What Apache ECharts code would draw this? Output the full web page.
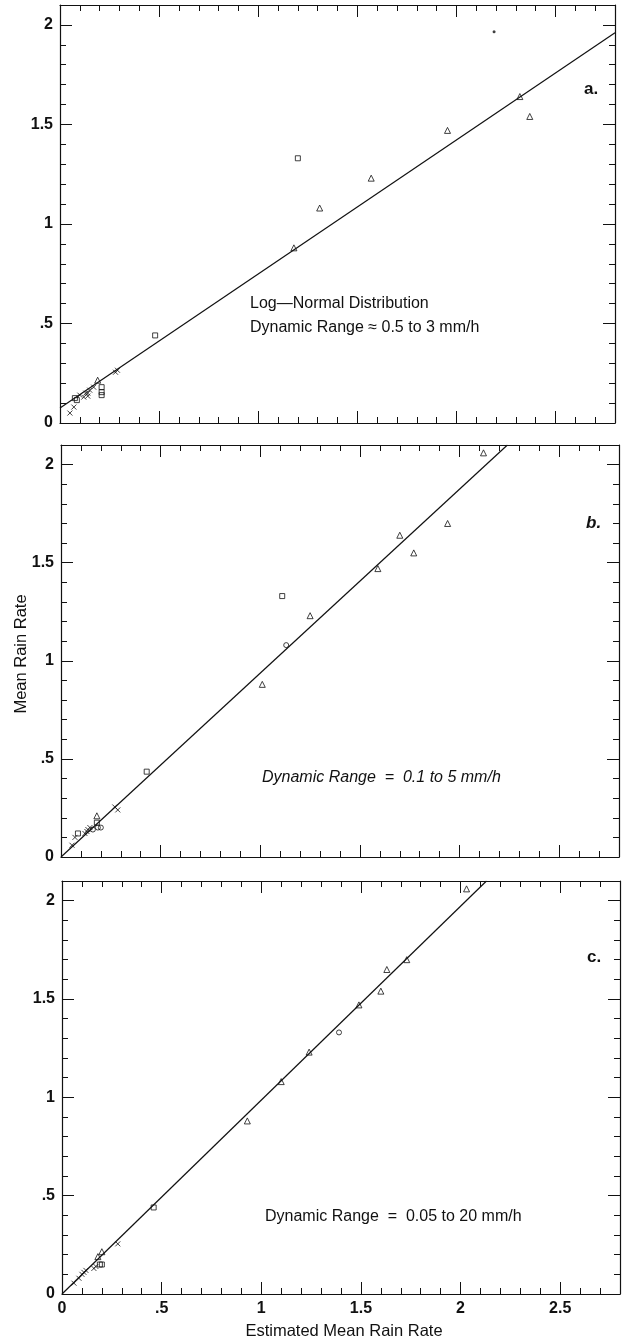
<!DOCTYPE html>
<html>
<head>
<meta charset="utf-8">
<script src="https://cdn.jsdelivr.net/npm/echarts@6/dist/echarts.min.js"></script>
<style>
  html, body { margin: 0; background: #fff; }
  #chart { width: 627px; height: 1340px; }
</style>
</head>
<body>
<div id="chart"></div>
<script>
// panel a - log-normal, dynamic range 0.5 to 3 mm/h
const aTri = [[2.32, 1.64], [2.37, 1.54], [1.955, 1.47], [1.57, 1.23], [1.31, 1.08], [1.18, 0.88], [0.19, 0.215]]
const aSq = [[1.2, 1.33], [0.48, 0.44], [0.21, 0.18], [0.21, 0.155], [0.21, 0.14], [0.075, 0.125], [0.085, 0.115]]
const aX = [[0.28, 0.255], [0.29, 0.265], [0.17, 0.18], [0.15, 0.165], [0.14, 0.15], [0.13, 0.15],
  [0.12, 0.13], [0.14, 0.135], [0.1, 0.14], [0.07, 0.08], [0.05, 0.05]]
const aDot = [[2.19, 1.965]]
const aFit = [[0, 0.075], [2.8, 1.96]]

// panel b - dynamic range 0.1 to 5 mm/h
const bTri = [[2.12, 2.06], [1.94, 1.7], [1.7, 1.64], [1.77, 1.55], [1.59, 1.47], [1.25, 1.23], [1.01, 0.88], [0.18, 0.21]]
const bSq = [[1.11, 1.33], [0.43, 0.435], [0.18, 0.175], [0.085, 0.12]]
const bCirc = [[1.13, 1.08], [0.16, 0.14], [0.185, 0.15], [0.2, 0.15]]
const bX = [[0.27, 0.255], [0.285, 0.24], [0.145, 0.15], [0.135, 0.14], [0.13, 0.13], [0.12, 0.12], [0.07, 0.1], [0.055, 0.06]]
const bFit = [[0, 0], [2.24, 2.1]]

// panel c - dynamic range 0.05 to 20 mm/h
const cTri = [[2.03, 2.06], [1.73, 1.7], [1.63, 1.65], [1.6, 1.54], [1.49, 1.47], [1.24, 1.23], [1.1, 1.08], [0.93, 0.88], [0.2, 0.215], [0.18, 0.19]]
const cSq = [[0.46, 0.44], [0.2, 0.15], [0.19, 0.15]]
const cCirc = [[1.39, 1.33]]
const cX = [[0.28, 0.255], [0.17, 0.14], [0.16, 0.13], [0.12, 0.12], [0.11, 0.11], [0.1, 0.1], [0.085, 0.08], [0.06, 0.055]]
const cFit = [[0, 0], [2.13, 2.1]]

const xMax = 2.8
const yMax = 2.1
const font = '"Liberation Sans", Arial, sans-serif'
const ink = '#111'

const fmt = (v) => {
  if (Math.abs(v * 2 - Math.round(v * 2)) > 1e-6) return ''
  if (v === 0) return '0'
  return String(+v.toFixed(1)).replace(/^0\./, '.')
}

const grids = [
  { left: 60, top: 5, width: 555, height: 418 },
  { left: 61, top: 445, width: 558, height: 412 },
  { left: 62, top: 881, width: 558, height: 413 },
]

const xAxes = []
const yAxes = []
const mainX = []
const mainY = []

function addAxes(list, main, g, isX, max, showLabel) {
  const pos = isX ? ['bottom', 'top'] : ['left', 'right']
  pos.forEach((p, k) => {
    if (k === 0) main.push(list.length)
    list.push({
      gridIndex: g, type: 'value', position: p, min: 0, max: max, interval: 0.5,
      splitLine: { show: false },
      axisLine: { show: true, onZero: false, lineStyle: { color: ink, width: 1.2 } },
      axisTick: { show: true, inside: true, length: 12, lineStyle: { color: ink, width: 1 } },
      axisLabel: {
        show: showLabel && k === 0, formatter: fmt, margin: 7,
        color: ink, fontSize: 16, fontWeight: 'bold', fontFamily: font,
        showMaxLabel: false,
      },
    })
    list.push({
      gridIndex: g, type: 'value', position: p, min: 0, max: max, interval: 0.1,
      splitLine: { show: false },
      axisLine: { show: false, onZero: false },
      axisTick: { show: true, inside: true, length: 6, lineStyle: { color: ink, width: 1 } },
      axisLabel: { show: false },
    })
  })
}

for (let g = 0; g < 3; g++) {
  addAxes(xAxes, mainX, g, true, xMax, g === 2)
  addAxes(yAxes, mainY, g, false, yMax, true)
}

const crossPath = 'path://M0,0L10,10M0,10L10,0'
const hollow = { color: 'rgba(0,0,0,0)', borderColor: ink, borderWidth: 1 }

function pts(g, data, symbol, size, style) {
  return {
    type: 'scatter', xAxisIndex: mainX[g], yAxisIndex: mainY[g],
    data: data, symbol: symbol, symbolSize: size, itemStyle: style, silent: true,
  }
}
function fit(g, data) {
  return {
    type: 'line', xAxisIndex: mainX[g], yAxisIndex: mainY[g], data: data,
    showSymbol: false, lineStyle: { color: ink, width: 1.2 }, silent: true,
  }
}

const series = [
  fit(0, aFit),
  pts(0, aTri, 'triangle', 6, hollow),
  pts(0, aSq, 'rect', 5, hollow),
  pts(0, aX, crossPath, 5, hollow),
  pts(0, aDot, 'circle', 3, { color: ink }),
  fit(1, bFit),
  pts(1, bTri, 'triangle', 6, hollow),
  pts(1, bSq, 'rect', 5, hollow),
  pts(1, bCirc, 'circle', 5, hollow),
  pts(1, bX, crossPath, 5, hollow),
  fit(2, cFit),
  pts(2, cTri, 'triangle', 6, hollow),
  pts(2, cSq, 'rect', 5, hollow),
  pts(2, cCirc, 'circle', 5, hollow),
  pts(2, cX, crossPath, 5, hollow),
]

const txt = (x, y, text, extra) => ({
  type: 'text', x: x, y: y, silent: true,
  style: Object.assign({ text: text, fill: ink, font: '16px ' + font, textVerticalAlign: 'middle' }, extra || {}),
})

const option = {
  animation: false,
  backgroundColor: '#fff',
  grid: grids.map((g) => Object.assign({ containLabel: false, outerBoundsMode: 'none' }, g)),
  xAxis: xAxes,
  yAxis: yAxes,
  series: series,
  graphic: [
    txt(250, 304, 'Log\u2014Normal Distribution'),
    txt(250, 328, 'Dynamic Range \u2248 0.5 to 3 mm/h'),
    txt(262, 778, 'Dynamic Range  =  0.1 to 5 mm/h', { font: 'italic 16px ' + font }),
    txt(265, 1217, 'Dynamic Range  =  0.05 to 20 mm/h'),
    txt(584, 89, 'a.', { font: 'bold 17px ' + font }),
    txt(586, 523, 'b.', { font: 'italic bold 17px ' + font }),
    txt(587, 957, 'c.', { font: 'bold 17px ' + font }),
    txt(344, 1331, 'Estimated Mean Rain Rate', { textAlign: 'center', font: '16.5px ' + font }),
    {
      type: 'text', x: 21, y: 654, rotation: Math.PI / 2, silent: true,
      style: { text: 'Mean Rain Rate', fill: ink, font: '16.5px ' + font, textAlign: 'center', textVerticalAlign: 'middle' },
    },
  ],
}

const chart = echarts.init(document.getElementById('chart'))
chart.setOption(option)
</script>
</body>
</html>
